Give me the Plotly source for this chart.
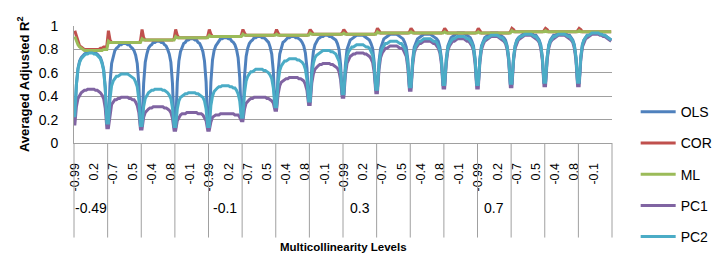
import plotly.graph_objects as go

# ---------------- data ----------------
series_names = ["OLS", "COR", "ML", "PC1", "PC2"]
series_colors = ["#4F81BD", "#C0504D", "#9BBB59", "#8064A2", "#4BACC6"]

# inner tick labels shown on the category axis (every 12th category)
x_tick_labels = ["-0.99", "0.2", "-0.7", "0.5", "-0.4", "0.8", "-0.1",
                 "-0.99", "0.2", "-0.7", "0.5", "-0.4", "0.8", "-0.1",
                 "-0.99", "0.2", "-0.7", "0.5", "-0.4", "0.8", "-0.1",
                 "-0.99", "0.2", "-0.7", "0.5", "-0.4", "0.8", "-0.1"]
group_labels = ["-0.49", "-0.1", "0.3", "0.7"]
group_label_groups = [0, 4, 8, 12]
points_per_group = 21
n_groups = 16
label_every = 12

ols = [
    [0.22,0.50,0.64,0.70,0.73,0.75,0.76,0.77,0.77,0.78,0.78,0.78,0.77,0.77,0.76,0.74,0.73,0.69,0.63,0.48,0.17],
    [0.17,0.51,0.68,0.75,0.79,0.81,0.82,0.84,0.84,0.85,0.85,0.85,0.84,0.84,0.82,0.81,0.79,0.75,0.68,0.50,0.15],
    [0.15,0.51,0.69,0.76,0.81,0.83,0.84,0.86,0.86,0.87,0.87,0.87,0.86,0.86,0.84,0.83,0.80,0.76,0.69,0.51,0.14],
    [0.14,0.52,0.70,0.78,0.82,0.85,0.86,0.88,0.88,0.89,0.89,0.89,0.88,0.88,0.86,0.85,0.82,0.78,0.70,0.52,0.14],
    [0.14,0.52,0.71,0.79,0.83,0.85,0.87,0.89,0.89,0.90,0.90,0.90,0.89,0.89,0.87,0.86,0.84,0.80,0.73,0.56,0.22],
    [0.22,0.57,0.74,0.81,0.85,0.87,0.88,0.90,0.90,0.91,0.91,0.91,0.90,0.90,0.89,0.87,0.86,0.82,0.76,0.61,0.31],
    [0.31,0.61,0.76,0.82,0.86,0.87,0.89,0.90,0.90,0.91,0.91,0.91,0.90,0.90,0.89,0.88,0.86,0.83,0.77,0.64,0.36],
    [0.36,0.64,0.78,0.84,0.87,0.89,0.90,0.91,0.91,0.92,0.92,0.92,0.91,0.91,0.90,0.89,0.88,0.85,0.80,0.67,0.42],
    [0.42,0.67,0.80,0.85,0.88,0.89,0.90,0.91,0.92,0.92,0.92,0.92,0.92,0.91,0.90,0.89,0.88,0.85,0.81,0.69,0.46],
    [0.46,0.70,0.81,0.86,0.89,0.90,0.91,0.92,0.93,0.93,0.93,0.93,0.93,0.92,0.91,0.90,0.89,0.86,0.82,0.71,0.48],
    [0.48,0.71,0.82,0.86,0.89,0.90,0.91,0.92,0.93,0.93,0.93,0.93,0.93,0.92,0.91,0.90,0.89,0.87,0.82,0.72,0.50],
    [0.50,0.72,0.83,0.87,0.90,0.91,0.92,0.93,0.94,0.94,0.94,0.94,0.94,0.93,0.92,0.91,0.90,0.87,0.83,0.72,0.50],
    [0.50,0.72,0.83,0.87,0.90,0.91,0.92,0.93,0.94,0.94,0.94,0.94,0.94,0.93,0.92,0.91,0.90,0.88,0.83,0.73,0.51],
    [0.51,0.73,0.83,0.88,0.90,0.91,0.92,0.93,0.94,0.94,0.94,0.94,0.94,0.93,0.92,0.92,0.90,0.88,0.84,0.73,0.52],
    [0.52,0.73,0.84,0.88,0.90,0.92,0.92,0.93,0.94,0.94,0.94,0.94,0.94,0.93,0.92,0.92,0.90,0.88,0.84,0.73,0.52],
    [0.52,0.73,0.84,0.88,0.90,0.92,0.92,0.93,0.94,0.94,0.94,0.94,0.94,0.93,0.93,0.92,0.92,0.91,0.90,0.89,0.88],
]

cor = [
    [0.96,0.91,0.86,0.83,0.82,0.81,0.80,0.80,0.80,0.80,0.80,0.80,0.80,0.80,0.80,0.80,0.81,0.81,0.82,0.82,0.83],
    [0.96,0.88,0.86,0.86,0.86,0.86,0.86,0.86,0.86,0.86,0.86,0.86,0.86,0.86,0.86,0.86,0.86,0.86,0.86,0.86,0.87],
    [0.97,0.90,0.88,0.88,0.88,0.88,0.88,0.88,0.88,0.88,0.88,0.88,0.88,0.88,0.88,0.88,0.88,0.88,0.88,0.88,0.89],
    [0.97,0.92,0.90,0.90,0.90,0.90,0.90,0.90,0.90,0.90,0.90,0.90,0.90,0.90,0.90,0.90,0.90,0.90,0.90,0.90,0.91],
    [0.97,0.93,0.91,0.91,0.91,0.91,0.91,0.91,0.91,0.91,0.91,0.91,0.91,0.91,0.91,0.91,0.91,0.91,0.91,0.91,0.92],
    [0.97,0.94,0.92,0.92,0.92,0.92,0.92,0.92,0.92,0.92,0.92,0.92,0.92,0.92,0.92,0.92,0.92,0.92,0.92,0.92,0.93],
    [0.97,0.94,0.92,0.92,0.92,0.92,0.92,0.92,0.92,0.92,0.92,0.92,0.92,0.92,0.92,0.92,0.92,0.92,0.92,0.92,0.93],
    [0.97,0.95,0.93,0.93,0.93,0.93,0.93,0.93,0.93,0.93,0.93,0.93,0.93,0.93,0.93,0.93,0.93,0.93,0.93,0.93,0.94],
    [0.97,0.95,0.93,0.93,0.93,0.93,0.93,0.93,0.93,0.93,0.93,0.93,0.93,0.93,0.93,0.93,0.93,0.93,0.93,0.93,0.94],
    [0.98,0.96,0.94,0.94,0.94,0.94,0.94,0.94,0.94,0.94,0.94,0.94,0.94,0.94,0.94,0.94,0.94,0.94,0.94,0.94,0.95],
    [0.98,0.96,0.94,0.94,0.94,0.94,0.94,0.94,0.94,0.94,0.94,0.94,0.94,0.94,0.94,0.94,0.94,0.94,0.94,0.94,0.95],
    [0.98,0.96,0.94,0.94,0.94,0.94,0.94,0.94,0.94,0.94,0.94,0.94,0.94,0.94,0.94,0.94,0.94,0.94,0.94,0.94,0.95],
    [0.98,0.96,0.94,0.94,0.94,0.94,0.94,0.94,0.94,0.94,0.94,0.94,0.94,0.94,0.94,0.94,0.94,0.94,0.94,0.94,0.95],
    [0.98,0.97,0.95,0.95,0.95,0.95,0.95,0.95,0.95,0.95,0.95,0.95,0.95,0.95,0.95,0.95,0.95,0.95,0.95,0.95,0.96],
    [0.98,0.97,0.95,0.95,0.95,0.95,0.95,0.95,0.95,0.95,0.95,0.95,0.95,0.95,0.95,0.95,0.95,0.95,0.95,0.95,0.96],
    [0.98,0.97,0.95,0.95,0.95,0.95,0.95,0.95,0.95,0.95,0.95,0.95,0.95,0.95,0.95,0.95,0.95,0.95,0.95,0.95,0.95],
]

ml = [
    [0.91,0.87,0.84,0.82,0.81,0.80,0.79,0.79,0.79,0.79,0.79,0.79,0.79,0.79,0.79,0.79,0.79,0.79,0.80,0.80,0.80],
    [0.87,0.86,0.86,0.86,0.86,0.86,0.86,0.86,0.86,0.86,0.86,0.86,0.86,0.86,0.86,0.86,0.86,0.86,0.86,0.86,0.86],
    [0.89,0.88,0.88,0.88,0.88,0.88,0.88,0.88,0.88,0.88,0.88,0.88,0.88,0.88,0.88,0.88,0.88,0.88,0.88,0.88,0.88],
    [0.91,0.90,0.90,0.90,0.90,0.90,0.90,0.90,0.90,0.90,0.90,0.90,0.90,0.90,0.90,0.90,0.90,0.90,0.90,0.90,0.90],
    [0.92,0.91,0.91,0.91,0.91,0.91,0.91,0.91,0.91,0.91,0.91,0.91,0.91,0.91,0.91,0.91,0.91,0.91,0.91,0.91,0.91],
    [0.93,0.92,0.92,0.92,0.92,0.92,0.92,0.92,0.92,0.92,0.92,0.92,0.92,0.92,0.92,0.92,0.92,0.92,0.92,0.92,0.92],
    [0.93,0.92,0.92,0.92,0.92,0.92,0.92,0.92,0.92,0.92,0.92,0.92,0.92,0.92,0.92,0.92,0.92,0.92,0.92,0.92,0.92],
    [0.94,0.93,0.93,0.93,0.93,0.93,0.93,0.93,0.93,0.93,0.93,0.93,0.93,0.93,0.93,0.93,0.93,0.93,0.93,0.93,0.93],
    [0.94,0.93,0.93,0.93,0.93,0.93,0.93,0.93,0.93,0.93,0.93,0.93,0.93,0.93,0.93,0.93,0.93,0.93,0.93,0.93,0.93],
    [0.95,0.94,0.94,0.94,0.94,0.94,0.94,0.94,0.94,0.94,0.94,0.94,0.94,0.94,0.94,0.94,0.94,0.94,0.94,0.94,0.94],
    [0.95,0.94,0.94,0.94,0.94,0.94,0.94,0.94,0.94,0.94,0.94,0.94,0.94,0.94,0.94,0.94,0.94,0.94,0.94,0.94,0.94],
    [0.95,0.94,0.94,0.94,0.94,0.94,0.94,0.94,0.94,0.94,0.94,0.94,0.94,0.94,0.94,0.94,0.94,0.94,0.94,0.94,0.94],
    [0.95,0.94,0.94,0.94,0.94,0.94,0.94,0.94,0.94,0.94,0.94,0.94,0.94,0.94,0.94,0.94,0.94,0.94,0.94,0.94,0.94],
    [0.96,0.95,0.95,0.95,0.95,0.95,0.95,0.95,0.95,0.95,0.95,0.95,0.95,0.95,0.95,0.95,0.95,0.95,0.95,0.95,0.95],
    [0.96,0.95,0.95,0.95,0.95,0.95,0.95,0.95,0.95,0.95,0.95,0.95,0.95,0.95,0.95,0.95,0.95,0.95,0.95,0.95,0.95],
    [0.96,0.95,0.95,0.95,0.95,0.95,0.95,0.95,0.95,0.95,0.95,0.95,0.95,0.95,0.95,0.95,0.95,0.95,0.95,0.95,0.95],
]

pc1 = [
    [0.15,0.31,0.38,0.41,0.43,0.44,0.45,0.45,0.46,0.46,0.46,0.46,0.46,0.45,0.45,0.44,0.43,0.41,0.38,0.30,0.13],
    [0.13,0.26,0.33,0.35,0.37,0.37,0.38,0.38,0.39,0.39,0.39,0.39,0.39,0.38,0.38,0.37,0.37,0.35,0.32,0.26,0.12],
    [0.12,0.22,0.26,0.28,0.29,0.30,0.30,0.31,0.31,0.31,0.31,0.31,0.31,0.31,0.30,0.30,0.29,0.28,0.26,0.21,0.11],
    [0.11,0.19,0.22,0.24,0.25,0.25,0.25,0.26,0.26,0.26,0.26,0.26,0.26,0.26,0.25,0.25,0.25,0.24,0.22,0.19,0.11],
    [0.11,0.18,0.22,0.23,0.24,0.24,0.24,0.25,0.25,0.25,0.25,0.25,0.25,0.25,0.25,0.25,0.24,0.24,0.24,0.22,0.19],
    [0.19,0.29,0.34,0.36,0.37,0.38,0.38,0.39,0.39,0.39,0.39,0.39,0.39,0.39,0.39,0.38,0.38,0.37,0.36,0.34,0.28],
    [0.28,0.42,0.49,0.52,0.53,0.54,0.55,0.55,0.56,0.56,0.56,0.56,0.56,0.56,0.55,0.55,0.54,0.53,0.50,0.45,0.33],
    [0.33,0.51,0.59,0.63,0.65,0.66,0.67,0.67,0.68,0.68,0.68,0.68,0.68,0.67,0.67,0.66,0.65,0.64,0.61,0.54,0.39],
    [0.39,0.58,0.68,0.71,0.74,0.75,0.76,0.76,0.77,0.77,0.77,0.77,0.77,0.76,0.76,0.75,0.74,0.72,0.69,0.60,0.43],
    [0.43,0.63,0.73,0.77,0.79,0.81,0.81,0.82,0.83,0.83,0.83,0.83,0.83,0.82,0.81,0.81,0.80,0.77,0.74,0.64,0.45],
    [0.45,0.66,0.77,0.81,0.83,0.85,0.85,0.86,0.87,0.87,0.87,0.87,0.87,0.86,0.85,0.85,0.83,0.81,0.77,0.67,0.47],
    [0.47,0.68,0.79,0.83,0.85,0.87,0.87,0.88,0.89,0.89,0.89,0.89,0.89,0.88,0.87,0.87,0.85,0.83,0.79,0.68,0.47],
    [0.47,0.69,0.80,0.84,0.87,0.88,0.89,0.90,0.91,0.91,0.91,0.91,0.91,0.90,0.89,0.88,0.87,0.85,0.80,0.70,0.48],
    [0.48,0.70,0.81,0.85,0.88,0.89,0.90,0.91,0.92,0.92,0.92,0.92,0.92,0.91,0.90,0.89,0.88,0.86,0.81,0.71,0.49],
    [0.49,0.71,0.81,0.86,0.88,0.89,0.90,0.91,0.92,0.92,0.92,0.92,0.92,0.91,0.90,0.89,0.88,0.86,0.81,0.71,0.49],
    [0.49,0.71,0.82,0.86,0.89,0.90,0.91,0.92,0.93,0.93,0.93,0.93,0.93,0.92,0.92,0.91,0.91,0.90,0.89,0.88,0.87],
]

pc2 = [
    [0.22,0.50,0.63,0.69,0.72,0.74,0.75,0.76,0.76,0.77,0.77,0.77,0.76,0.76,0.75,0.73,0.72,0.68,0.62,0.47,0.17],
    [0.17,0.38,0.49,0.53,0.55,0.57,0.57,0.58,0.59,0.59,0.59,0.59,0.59,0.58,0.57,0.56,0.55,0.52,0.48,0.37,0.15],
    [0.15,0.31,0.38,0.41,0.43,0.44,0.45,0.45,0.46,0.46,0.46,0.46,0.46,0.45,0.45,0.44,0.43,0.41,0.38,0.30,0.14],
    [0.14,0.29,0.36,0.39,0.40,0.41,0.42,0.42,0.43,0.43,0.43,0.43,0.43,0.42,0.42,0.41,0.40,0.39,0.36,0.29,0.14],
    [0.14,0.32,0.40,0.44,0.46,0.47,0.48,0.48,0.49,0.49,0.49,0.49,0.49,0.48,0.48,0.47,0.47,0.45,0.42,0.36,0.22],
    [0.22,0.43,0.53,0.57,0.59,0.61,0.61,0.62,0.63,0.63,0.63,0.63,0.63,0.62,0.62,0.61,0.60,0.58,0.55,0.47,0.31],
    [0.31,0.52,0.62,0.66,0.68,0.70,0.70,0.71,0.72,0.72,0.72,0.72,0.72,0.71,0.71,0.70,0.69,0.67,0.63,0.54,0.36],
    [0.36,0.58,0.68,0.73,0.75,0.76,0.77,0.78,0.79,0.79,0.79,0.79,0.79,0.78,0.78,0.77,0.76,0.73,0.70,0.61,0.42],
    [0.42,0.63,0.74,0.78,0.80,0.82,0.82,0.83,0.84,0.84,0.84,0.84,0.84,0.83,0.82,0.82,0.81,0.78,0.75,0.65,0.46],
    [0.46,0.67,0.77,0.81,0.83,0.85,0.85,0.86,0.87,0.87,0.87,0.87,0.87,0.86,0.85,0.85,0.83,0.81,0.77,0.68,0.48],
    [0.48,0.69,0.79,0.83,0.85,0.87,0.87,0.88,0.89,0.89,0.89,0.89,0.89,0.88,0.87,0.87,0.86,0.83,0.79,0.70,0.50],
    [0.50,0.71,0.81,0.85,0.87,0.89,0.89,0.90,0.91,0.91,0.91,0.91,0.91,0.90,0.89,0.89,0.87,0.85,0.81,0.71,0.50],
    [0.50,0.71,0.82,0.86,0.88,0.90,0.90,0.91,0.92,0.92,0.92,0.92,0.92,0.91,0.90,0.90,0.88,0.86,0.82,0.72,0.51],
    [0.51,0.72,0.83,0.87,0.89,0.91,0.91,0.92,0.93,0.93,0.93,0.93,0.93,0.92,0.91,0.91,0.89,0.87,0.83,0.73,0.52],
    [0.52,0.73,0.83,0.87,0.89,0.91,0.91,0.92,0.93,0.93,0.93,0.93,0.93,0.92,0.91,0.91,0.89,0.87,0.83,0.73,0.52],
    [0.52,0.73,0.84,0.88,0.90,0.92,0.92,0.93,0.94,0.94,0.94,0.94,0.94,0.93,0.93,0.92,0.92,0.91,0.90,0.89,0.88],
]

all_series = [ols, cor, ml, pc1, pc2]

# ---------------- figure ----------------
FONT = "Liberation Sans"
GRID = "#a0a0a0"
n_cat = n_groups * points_per_group

fig = go.Figure()
for name, color, groups in zip(series_names, series_colors, all_series):
    xs, ys = [], []
    for g, vals in enumerate(groups):
        for i, v in enumerate(vals):
            xs.append(g * points_per_group + i)
            ys.append(v)
    fig.add_trace(go.Scatter(x=xs, y=ys, mode="lines", name=name, legendgroup=name,
                             line=dict(color=color, width=3)))

shapes = []
for g in range(n_groups + 1):
    shapes.append(dict(type="line", xref="paper", yref="paper",
                       x0=g / n_groups, x1=g / n_groups, y0=0, y1=-0.808,
                       line=dict(color=GRID, width=1)))

annotations = []
for lab, g in zip(group_labels, group_label_groups):
    annotations.append(dict(x=g * points_per_group + (points_per_group - 1) / 2, xref="x",
                            y=-0.552, yref="paper", text=lab, showarrow=False,
                            font=dict(family=FONT, size=14, color="#000"),
                            xanchor="center", yanchor="middle"))
annotations.append(dict(x=0.5, xref="paper", y=-0.888, yref="paper",
                        text="<b>Multicollinearity Levels</b>", showarrow=False,
                        font=dict(family=FONT, size=11.5, color="#000"),
                        xanchor="center", yanchor="middle"))
annotations.append(dict(x=-0.0955, xref="paper", y=0.5, yref="paper",
                        text="<b>Averaged Adjusted R<sup>2</sup></b>", showarrow=False,
                        textangle=-90, font=dict(family=FONT, size=13, color="#000"),
                        xanchor="center", yanchor="middle"))

fig.update_layout(
    width=720, height=256,
    margin=dict(l=66, r=88, t=10, b=121),
    plot_bgcolor="white", paper_bgcolor="white",
    font=dict(family=FONT, color="#000"),
    shapes=shapes, annotations=annotations,
    legend=dict(x=1.044, y=0.40, xanchor="left", yanchor="top",
                font=dict(family=FONT, size=14, color="#000"),
                tracegroupgap=10, traceorder="grouped",
                bgcolor="rgba(0,0,0,0)", itemwidth=35, maxheight=400),
    xaxis=dict(range=[-0.5, n_cat - 0.5],
               tickvals=[k * label_every for k in range(len(x_tick_labels))],
               ticktext=x_tick_labels, tickangle=-90,
               tickfont=dict(family=FONT, size=12.5, color="#000"),
               showgrid=False, zeroline=False, showline=True, linecolor=GRID,
               ticks="", ticklabelstandoff=14),
    yaxis=dict(range=[0, 1], tickvals=[0, 0.2, 0.4, 0.6, 0.8, 1],
               ticktext=["0", "0.2", "0.4", "0.6", "0.8", "1"],
               tickfont=dict(family=FONT, size=14, color="#000"),
               showgrid=True, gridcolor=GRID, gridwidth=1,
               zeroline=False, showline=True, linecolor=GRID,
               ticks="", ticklabelstandoff=12),
)

fig.write_html("out.html")
